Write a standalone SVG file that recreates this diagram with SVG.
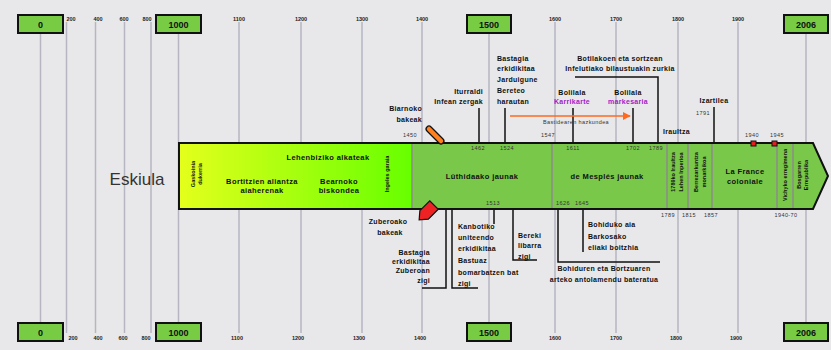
<svg xmlns="http://www.w3.org/2000/svg" width="831" height="350" viewBox="0 0 831 350">
<defs>
<linearGradient id="gy" x1="0" x2="1" y1="0" y2="0">
<stop offset="0" stop-color="#e4ff1c"/>
<stop offset="1" stop-color="#66ff00"/>
</linearGradient>
<marker id="ah" viewBox="0 0 10 10" refX="9" refY="5" markerWidth="5" markerHeight="5" orient="auto"><path d="M0,0 L10,5 L0,10 Z" fill="#ff6a20"/></marker>
<style>
.grid{stroke:#b6b6c2;stroke-width:1.5}
.yb{fill:#77cc44;stroke:#111;stroke-width:2}
.yt{font:bold 9px "Liberation Sans",Arial,sans-serif;text-anchor:middle;fill:#111}
.st{font:bold 5.5px "Liberation Sans",Arial,sans-serif;text-anchor:middle;fill:#222}
.bt{font:bold 7.5px "Liberation Sans",Arial,sans-serif;text-anchor:middle;fill:#111;letter-spacing:0.4px}
.vt{font:bold 5.5px "Liberation Sans",Arial,sans-serif;text-anchor:middle;fill:#111}
.an{font:bold 7px "Liberation Sans",Arial,sans-serif;fill:#111;letter-spacing:0.3px}
.pu{fill:#a020c8}
.yr{font:5.5px "Liberation Sans",Arial,sans-serif;text-anchor:middle;fill:#333;letter-spacing:0.4px}
.div{stroke:#8c8c8c;stroke-width:1.5}
.ld{fill:none;stroke:#111;stroke-width:1.5}
</style>
</defs>
<rect width="831" height="350" fill="#e8e8ea"/>

<g id="grid">
<line class="grid" x1="40.5" y1="33" x2="40.5" y2="323"/>
<line class="grid" x1="66.5" y1="22" x2="66.5" y2="333"/>
<line class="grid" x1="95.5" y1="22" x2="95.5" y2="333"/>
<line class="grid" x1="124.5" y1="22" x2="124.5" y2="333"/>
<line class="grid" x1="151" y1="22" x2="151" y2="333"/>
<line class="grid" x1="178.5" y1="33" x2="178.5" y2="323"/>
<line class="grid" x1="239" y1="22" x2="239" y2="333"/>
<line class="grid" x1="301" y1="22" x2="301" y2="333"/>
<line class="grid" x1="362" y1="22" x2="362" y2="333"/>
<line class="grid" x1="422" y1="22" x2="422" y2="333"/>
<line class="grid" x1="489" y1="33" x2="489" y2="323"/>
<line class="grid" x1="555" y1="22" x2="555" y2="333"/>
<line class="grid" x1="616" y1="22" x2="616" y2="333"/>
<line class="grid" x1="678" y1="22" x2="678" y2="333"/>
<line class="grid" x1="738" y1="22" x2="738" y2="333"/>
<line class="grid" x1="806" y1="33" x2="806" y2="323"/>
</g>

<g id="scale-top">
<rect class="yb" x="18" y="15" width="45" height="18"/><text class="yt" x="40.5" y="27.5">0</text>
<rect class="yb" x="156" y="15" width="45" height="18"/><text class="yt" x="178.5" y="27.5">1000</text>
<rect class="yb" x="467" y="15" width="44" height="18"/><text class="yt" x="489" y="27.5">1500</text>
<rect class="yb" x="784" y="15" width="44" height="18"/><text class="yt" x="806" y="27.5">2006</text>
<text class="st" x="71" y="21">200</text>
<text class="st" x="98" y="21">400</text>
<text class="st" x="124" y="21">600</text>
<text class="st" x="147" y="21">800</text>
<text class="st" x="239" y="21">1100</text>
<text class="st" x="301" y="21">1200</text>
<text class="st" x="362" y="21">1300</text>
<text class="st" x="422" y="21">1400</text>
<text class="st" x="555" y="21">1600</text>
<text class="st" x="616" y="21">1700</text>
<text class="st" x="678" y="21">1800</text>
<text class="st" x="738" y="21">1900</text>
</g>

<g id="scale-bottom">
<rect class="yb" x="18" y="323" width="45" height="18"/><text class="yt" x="40.5" y="335.5">0</text>
<rect class="yb" x="156" y="323" width="45" height="18"/><text class="yt" x="178.5" y="335.5">1000</text>
<rect class="yb" x="467" y="323" width="44" height="18"/><text class="yt" x="489" y="335.5">1500</text>
<rect class="yb" x="784" y="323" width="44" height="18"/><text class="yt" x="806" y="335.5">2006</text>
<text class="st" x="73" y="340">200</text>
<text class="st" x="98" y="340">400</text>
<text class="st" x="123" y="340">600</text>
<text class="st" x="146" y="340">800</text>
<text class="st" x="237" y="340">1100</text>
<text class="st" x="298" y="340">1200</text>
<text class="st" x="359" y="340">1300</text>
<text class="st" x="420" y="340">1400</text>
<text class="st" x="555" y="340">1600</text>
<text class="st" x="616" y="340">1700</text>
<text class="st" x="676" y="340">1800</text>
<text class="st" x="736" y="340">1900</text>
</g>

<g id="title"><text x="137" y="185" font-family="'Liberation Sans',Arial,sans-serif" font-size="17" fill="#333" text-anchor="middle">Eskiula</text></g>

<g id="band">
<rect x="179" y="143" width="234" height="66" fill="url(#gy)"/>
<path d="M412,143 H813 L828,176 L813,209 H412 Z" fill="#79c84a"/>
<line class="div" x1="412" y1="143" x2="412" y2="209"/>
<line class="div" x1="552" y1="143" x2="552" y2="209"/>
<line class="div" x1="667" y1="143" x2="667" y2="209"/>
<line class="div" x1="688" y1="143" x2="688" y2="209"/>
<line class="div" x1="712" y1="143" x2="712" y2="209"/>
<line class="div" x1="777" y1="143" x2="777" y2="209"/>
<line class="div" x1="793" y1="143" x2="793" y2="209"/>
<path d="M179,143 H813 L828,176 L813,209 H179 Z" fill="none" stroke="#111" stroke-width="2"/>
<text class="vt" transform="translate(195,174) rotate(-90)">Gaskoinia</text>
<text class="vt" transform="translate(202,174) rotate(-90)">dukerria</text>
<text class="bt" x="328" y="160">Lehenbiziko alkateak</text>
<text class="bt" x="262" y="184">Bortitzien aliantza</text>
<text class="bt" x="262" y="193">aiaherenak</text>
<text class="bt" x="339" y="184">Bearnoko</text>
<text class="bt" x="339" y="193">biskondea</text>
<text class="vt" transform="translate(389,174) rotate(-90)">Ingeles garaia</text>
<text class="bt" x="482" y="179">Lûthidaako jaunak</text>
<text class="bt" x="607" y="179">de Mesplés jaunak</text>
<text class="vt" transform="translate(675,172) rotate(-90)">1789ko Iraultza</text>
<text class="vt" transform="translate(683,172) rotate(-90)">Lehen Inperioa</text>
<text class="vt" transform="translate(698,172) rotate(-90)">Berrezarkuntza</text>
<text class="vt" transform="translate(706,172) rotate(-90)">monarkikoa</text>
<text class="bt" x="745" y="174">La France</text>
<text class="bt" x="745" y="184">coloniale</text>
<text class="vt" transform="translate(787,175) rotate(-90)">Vichyko erregimena</text>
<text class="vt" transform="translate(801,175) rotate(-90)">Bosgarren</text>
<text class="vt" transform="translate(808,175) rotate(-90)">Errepublika</text>
<text class="yr" x="478" y="150">1462</text>
<text class="yr" x="507" y="150">1524</text>
<text class="yr" x="573" y="150">1611</text>
<text class="yr" x="633" y="150">1702</text>
<text class="yr" x="656" y="150">1789</text>
<text class="yr" x="493" y="205">1513</text>
<text class="yr" x="563" y="205">1626</text>
<text class="yr" x="582" y="205">1645</text>
<rect x="751" y="141" width="5" height="5" fill="#e02020" stroke="#111" stroke-width="1"/>
<rect x="772" y="141" width="5" height="5" fill="#e02020" stroke="#111" stroke-width="1"/>
</g>

<g id="years-out">
<text class="yr" x="410" y="137">1450</text>
<text class="yr" x="548" y="137">1547</text>
<text class="yr" x="752" y="137">1940</text>
<text class="yr" x="777" y="137">1945</text>
<text class="yr" x="668" y="217">1789</text>
<text class="yr" x="689" y="217">1815</text>
<text class="yr" x="711" y="217">1857</text>
<text class="yr" x="786" y="217">1940-70</text>
<text class="yr" x="703" y="115">1791</text>
</g>

<g id="connectors">
<line class="ld" x1="479" y1="108" x2="479" y2="143"/>
<line class="ld" x1="505" y1="108" x2="505" y2="143"/>
<path class="ld" d="M575,77 H658 V143"/>
<line class="ld" x1="573" y1="108" x2="573" y2="143"/>
<line class="ld" x1="633" y1="108" x2="633" y2="143"/>
<line class="ld" x1="714" y1="107" x2="714" y2="143"/>
<line x1="510" y1="116" x2="630" y2="116" stroke="#ff6a20" stroke-width="1.6" marker-end="url(#ah)"/>
<path class="ld" d="M446,209 V288 H422"/>
<path class="ld" d="M452,209 V288 H478"/>
<line class="ld" x1="494" y1="209" x2="494" y2="224"/>
<path class="ld" d="M513,209 V260 H537"/>
<path class="ld" d="M558,209 V262 H660"/>
<line class="ld" x1="583" y1="209" x2="583" y2="252"/>
</g>

<g id="markers">
<line x1="429" y1="129" x2="441" y2="141" stroke="#111" stroke-width="7" stroke-linecap="round"/>
<line x1="429" y1="129" x2="441" y2="141" stroke="#ff8020" stroke-width="4.5" stroke-linecap="round"/>
<path d="M0,-6 H14 L21,0 L14,6 H0 Z" transform="translate(434,205) rotate(135)" fill="#ee2222" stroke="#111" stroke-width="1.2"/>
</g>

<g id="labels-top">
<text class="an" text-anchor="end" x="422" y="111">Biarnoko</text>
<text class="an" text-anchor="end" x="422" y="122">bakeak</text>
<text class="an" text-anchor="end" x="483" y="94">Iturraldi</text>
<text class="an" text-anchor="end" x="483" y="104">Infean zergak</text>
<text class="an" x="497" y="61">Bastagia</text>
<text class="an" x="497" y="71">erkidikitaa</text>
<text class="an" x="497" y="82">Jarduigune</text>
<text class="an" x="497" y="93">Bereteo</text>
<text class="an" x="497" y="104">harautan</text>
<text class="an" text-anchor="middle" x="620" y="61">Botilakoen eta sortzean</text>
<text class="an" text-anchor="middle" x="620" y="71">Infelutiako bilaustuakin zurkia</text>
<text class="an" text-anchor="middle" x="572" y="95">Bolilala</text>
<text class="an pu" text-anchor="middle" x="572" y="104">Karrikarte</text>
<text class="an" text-anchor="middle" x="628" y="95">Bolilala</text>
<text class="an pu" text-anchor="middle" x="628" y="104">markesaria</text>
<text class="yr" x="576" y="124" font-weight="bold">Bastidearen hazkundea</text>
<text class="an" x="663" y="134">Iraultza</text>
<text class="an" text-anchor="middle" x="714" y="103">Izartilea</text>
</g>

<g id="labels-bottom">
<text class="an" text-anchor="middle" x="388" y="224">Zuberoako</text>
<text class="an" text-anchor="middle" x="390" y="235">bakeak</text>
<text class="an" text-anchor="end" x="430" y="255">Bastagia</text>
<text class="an" text-anchor="end" x="430" y="264">erkidikitaa</text>
<text class="an" text-anchor="end" x="430" y="273">Zuberoan</text>
<text class="an" text-anchor="end" x="430" y="283">zigi</text>
<text class="an" x="458" y="229">Kanbotiko</text>
<text class="an" x="458" y="240">uniteendo</text>
<text class="an" x="458" y="251">erkidikitaa</text>
<text class="an" x="458" y="263">Bastuaz</text>
<text class="an" x="458" y="275">bomarbatzen bat</text>
<text class="an" x="458" y="286">zigi</text>
<text class="an" x="518" y="238">Bereki</text>
<text class="an" x="518" y="248">libarra</text>
<text class="an" x="518" y="259">zigi</text>
<text class="an" x="588" y="227">Bohiduko aia</text>
<text class="an" x="588" y="239">Barkosako</text>
<text class="an" x="588" y="250">eliaki boitzhia</text>
<text class="an" text-anchor="middle" x="604" y="271">Bohiduren eta Bortzuaren</text>
<text class="an" text-anchor="middle" x="604" y="282">arteko antolamendu bateratua</text>
</g>
</svg>
